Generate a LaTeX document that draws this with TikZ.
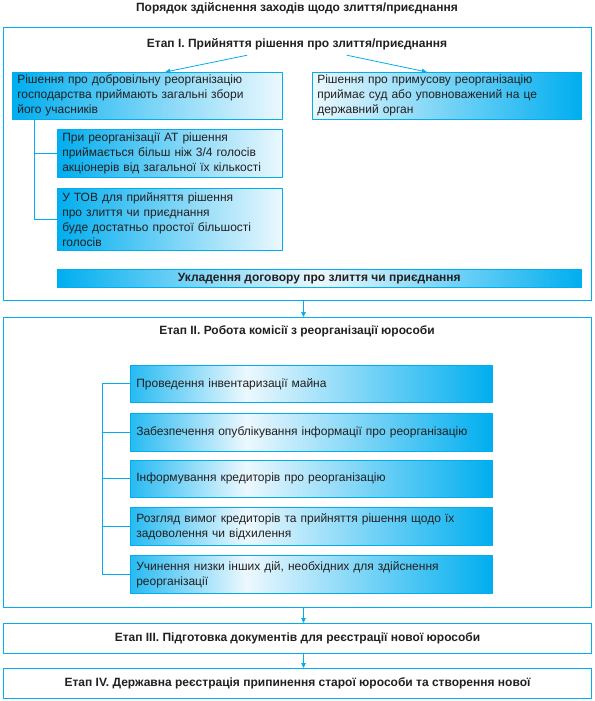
\documentclass[tikz,border=0pt]{standalone}
\usepackage{fontspec}
\setmainfont{Liberation Sans}
\usetikzlibrary{arrows.meta}
\definecolor{pcyan}{RGB}{0,174,239}
\definecolor{pale}{RGB}{236,248,254}
\definecolor{ink}{RGB}{35,31,32}
\pgfdeclarehorizontalshading{listshade}{100bp}{color(0bp)=(pcyan!85); color(25bp)=(pcyan!85); color(41bp)=(pale); color(75bp)=(pcyan); color(100bp)=(pcyan)}

\begin{document}
\begin{tikzpicture}[x=1pt,y=-1pt,font=\fontsize{12}{15}\selectfont,text=ink,line cap=round,line join=round,
  frame/.style={draw=pcyan,line width=1pt,anchor=north west,inner sep=0pt,minimum width=588pt},
  head/.style={font=\fontsize{12}{14}\selectfont\bfseries},
  box/.style={draw=pcyan,line width=0.6pt,anchor=north west,align=left,inner xsep=5pt,inner ysep=0pt},
  tolight/.style={box,left color=pcyan,right color=pale},
  todark/.style={box,left color=pale,right color=pcyan},
  listbox/.style={box,shading=listshade,inner xsep=6pt,text width=350pt},
  link/.style={draw=pcyan,line width=0.8pt},
  arr/.style={link,-{Triangle[width=4.5pt,length=5pt]}}]
\useasboundingbox (0,0) rectangle (594,701);
\node[head] (title) at (297,8) {Порядок здійснення заходів щодо злиття/приєднання};
% stage I
\node[frame,minimum height=273pt] (fI) at (3,27) {};
\node[head] (hI) at (297,44) {Етап I. Прийняття рішення про злиття/приєднання};
\node[tolight,text width=260pt,minimum height=47pt] (bA) at (12,72) {Рішення про добровільну реорганізацію\\ господарства приймають загальні збори\\ його учасників};
\node[todark,text width=259pt,minimum height=47pt] (bB) at (312,72) {Рішення про примусову реорганізацію\\ приймає суд або уповноважений на це\\ державний орган};
\node[tolight,text width=215pt,minimum height=48pt] (bC) at (57,129) {При реорганізації АТ рішення\\ приймається більш ніж 3/4 голосів\\ акціонерів від загальної їх кількості};
\node[tolight,text width=215pt,minimum height=62pt] (bD) at (57,188) {У ТОВ для прийняття рішення\\ про злиття чи приєднання\\ буде достатньо простої більшості\\ голосів};
% bar: light in the middle, two shaded halves under the node
\shade[left color=pcyan,right color=pale] (57,269) rectangle (319,287);
\shade[left color=pale,right color=pcyan] (319,269) rectangle (581,287);
\node[box,minimum width=524pt,minimum height=18pt,font=\fontsize{12}{14}\selectfont\bfseries] (deal) at (57,269) {Укладення договору про злиття чи приєднання};
\draw[arr] ([xshift=-50pt,yshift=-2pt]hI.south) -- ([xshift=18pt]bA.north);
\draw[arr] ([xshift=50pt,yshift=-2pt]hI.south) -- ([xshift=-20pt]bB.north);
\coordinate (aj) at ([xshift=22pt]bA.south west);
\draw[link] (aj) |- (bC.west);
\draw[link] (aj) |- (bD.west);
% stage II
\node[frame,minimum height=290pt] (fII) at (3,317) {};
\node[head] (hII) at (297,331) {Етап II. Робота комісії з реорганізації юрособи};
\node[listbox,minimum height=37pt] (l1) at (130,365) {Проведення інвентаризації майна};
\node[listbox,minimum height=38pt] (l2) at (130,413) {Забезпечення опублікування інформації про реорганізацію};
\node[listbox,minimum height=37pt] (l3) at (130,460) {Інформування кредиторів про реорганізацію};
\node[listbox,minimum height=38pt] (l4) at (130,507) {Розгляд вимог кредиторів та прийняття рішення щодо їх\\ задоволення чи відхилення};
\node[listbox,minimum height=38pt] (l5) at (130,555) {Учинення низки інших дій, необхідних для здійснення\\ реорганізації};
\draw[link] (l1.west) -- ++(-28,0) |- (l5.west);
\foreach \i in {2,3,4} \draw[link] (l\i.west) -- ++(-28,0);
% stages III and IV
\node[frame,minimum height=30pt,head] (fIII) at (3,623) {Етап III. Підготовка документів для реєстрації нової юрособи};
\node[frame,minimum height=30pt,head] (fIV) at (3,668) {Етап IV. Державна реєстрація припинення старої юрособи та створення нової};
\draw[arr] ([xshift=6pt]fI.south) -- ([xshift=6pt]fII.north);
\draw[arr] ([xshift=6pt]fII.south) -- ([xshift=6pt]fIII.north);
\draw[arr] ([xshift=6pt]fIII.south) -- ([xshift=6pt]fIV.north);
\end{tikzpicture}
\end{document}
